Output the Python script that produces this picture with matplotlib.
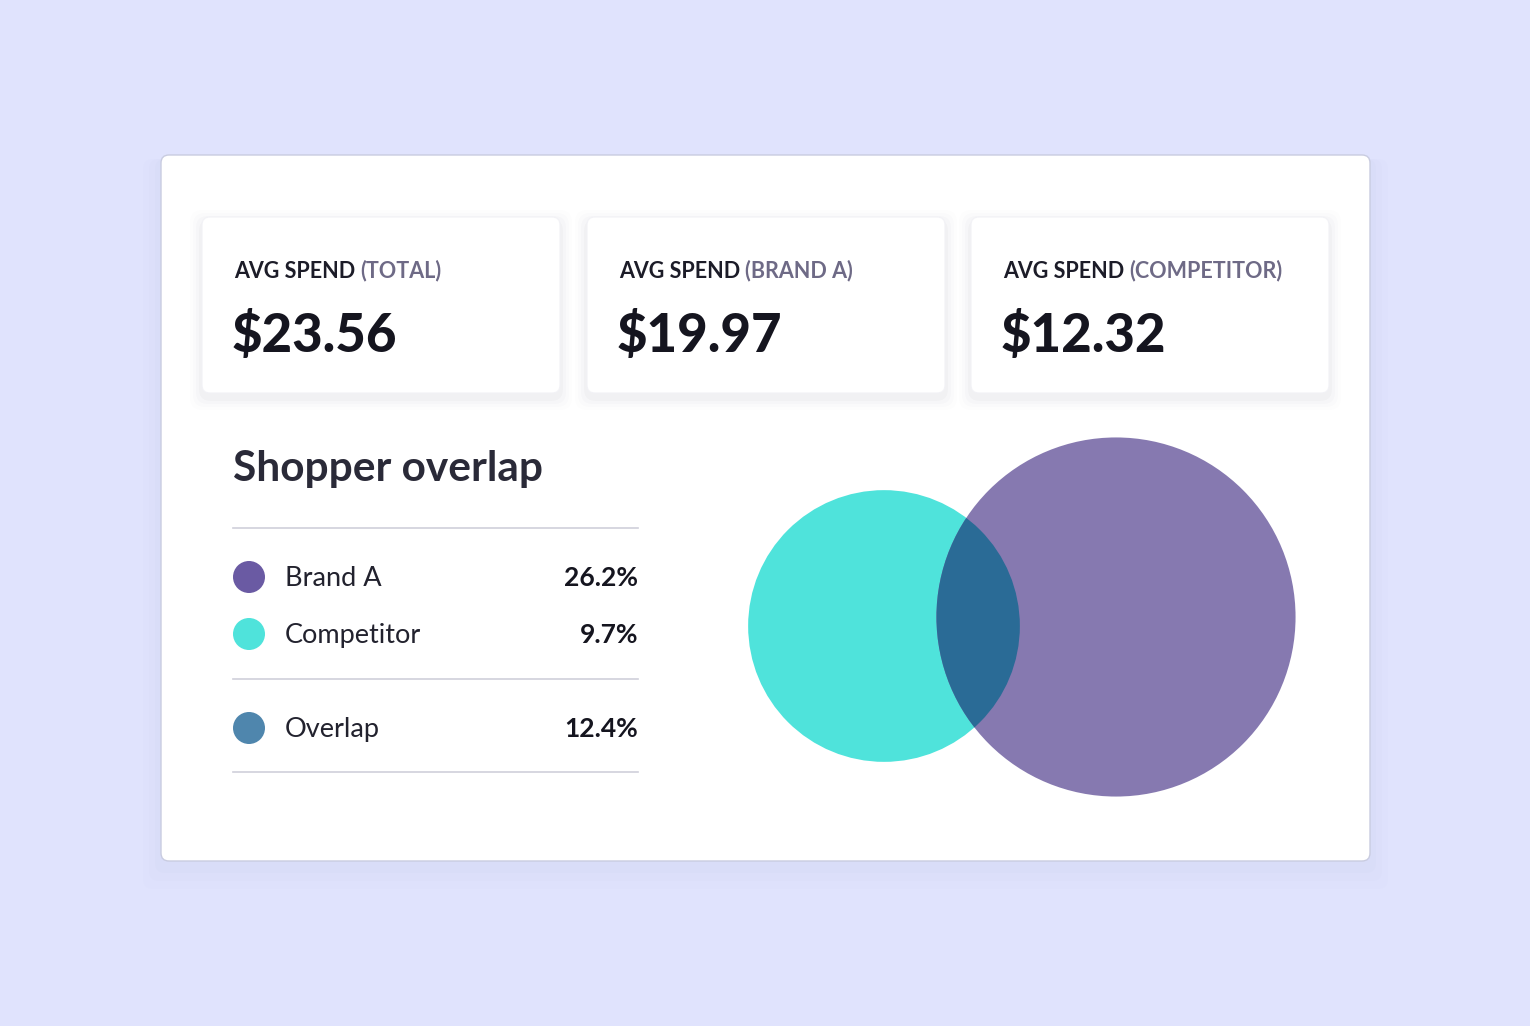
import matplotlib.pyplot as plt
from matplotlib.patches import FancyBboxPatch, Circle
import numpy as np

# data
kpi_labels = ["AVG SPEND", "AVG SPEND", "AVG SPEND"]
kpi_subs = ["(TOTAL)", "(BRAND A)", "(COMPETITOR)"]
kpi_values = [23.56, 19.97, 12.32]
legend_names = ["Brand A", "Competitor", "Overlap"]
legend_pcts = [26.2, 9.7, 12.4]
legend_colors = ["#6A5AA3", "#4FE3DB", "#4F86AD"]

BG = "#E0E3FD"
FONT = "Lato"

fig = plt.figure(figsize=(15.3, 10.26), dpi=100, facecolor=BG)
ax = fig.add_axes([0, 0, 1, 1])
ax.set_xlim(0, 1530)
ax.set_ylim(1026, 0)
ax.axis("off")

# card with soft shadow
for i, a in enumerate([0.025, 0.02, 0.015]):
    ax.add_patch(FancyBboxPatch((161 - 6 * (i + 1), 155 + 4), 1209 + 12 * (i + 1), 706 + 8 * (i + 1),
                                boxstyle="round,pad=0,rounding_size=10", fc="#8890C0", ec="none", alpha=a))
ax.add_patch(FancyBboxPatch((161, 155), 1209, 706, boxstyle="round,pad=0,rounding_size=8",
                            fc="white", ec="#C9CCE0", lw=1))

# KPI boxes
box_x = [202, 587, 971]
for x, lab, sub, val in zip(box_x, kpi_labels, kpi_subs, kpi_values):
    for i, a in enumerate([0.03, 0.02, 0.012, 0.008]):
        d = 3 * (i + 1)
        ax.add_patch(FancyBboxPatch((x - d, 217 - d + 5), 358 + 2 * d, 176 + 2 * d,
                                    boxstyle="round,pad=0,rounding_size=12", fc="#505070", ec="none", alpha=a))
    ax.add_patch(FancyBboxPatch((x, 217), 358, 176, boxstyle="round,pad=0,rounding_size=8",
                                fc="white", ec="#F2F2F6", lw=0.8))
    t = ax.text(x + 32, 271, lab + " ", fontsize=15.5, fontweight="bold", family=FONT,
                color="#1C1C28", va="center")
    fig.canvas.draw()
    bb = t.get_window_extent()
    inv = ax.transData.inverted()
    xend = inv.transform((bb.x1, 0))[0]
    ax.text(xend, 271, sub, fontsize=15.5, fontweight="bold", family=FONT, color="#6E6A86", va="center")
    ax.text(x + 30, 336, f"${val:.2f}", fontsize=38, fontweight="heavy", family=FONT,
            color="#15151F", va="center")

# Shopper overlap legend
ax.text(233, 469, "Shopper overlap", fontsize=30.5, fontweight="bold", family=FONT, color="#2A2A38", va="center")
for y in [528, 679, 772]:
    ax.plot([233, 638], [y, y], color="#CFCFDA", lw=1.2)
rows_y = [577, 634, 728]
for y, n, p, c in zip(rows_y, legend_names, legend_pcts, legend_colors):
    ax.add_patch(Circle((249, y), 16, fc=c, ec="none"))
    ax.text(285, y + 1, n, fontsize=19.5, family=FONT, color="#22222E", va="center")
    ax.text(638, y + 1, f"{p}%", fontsize=19, fontweight="bold", family=FONT, color="#15151F",
            va="center", ha="right")

# Venn: radius from each total audience (exclusive + overlap)
k = 28.9
r_brand = k * np.sqrt(legend_pcts[0] + legend_pcts[2])
r_comp = k * np.sqrt(legend_pcts[1] + legend_pcts[2])
comp = Circle((884, 626), r_comp, fc="#4FE3DB", ec="none")
brand = Circle((1116, 617), r_brand, fc="#8679B0", ec="none")
ax.add_patch(comp)
ax.add_patch(brand)
ov = Circle((1116, 617), r_brand, fc="#2A6B96", ec="none")
ax.add_patch(ov)
clip = Circle((884, 626), r_comp, transform=ax.transData)
ov.set_clip_path(clip)

fig.savefig("out.png", dpi=100, facecolor=BG)
